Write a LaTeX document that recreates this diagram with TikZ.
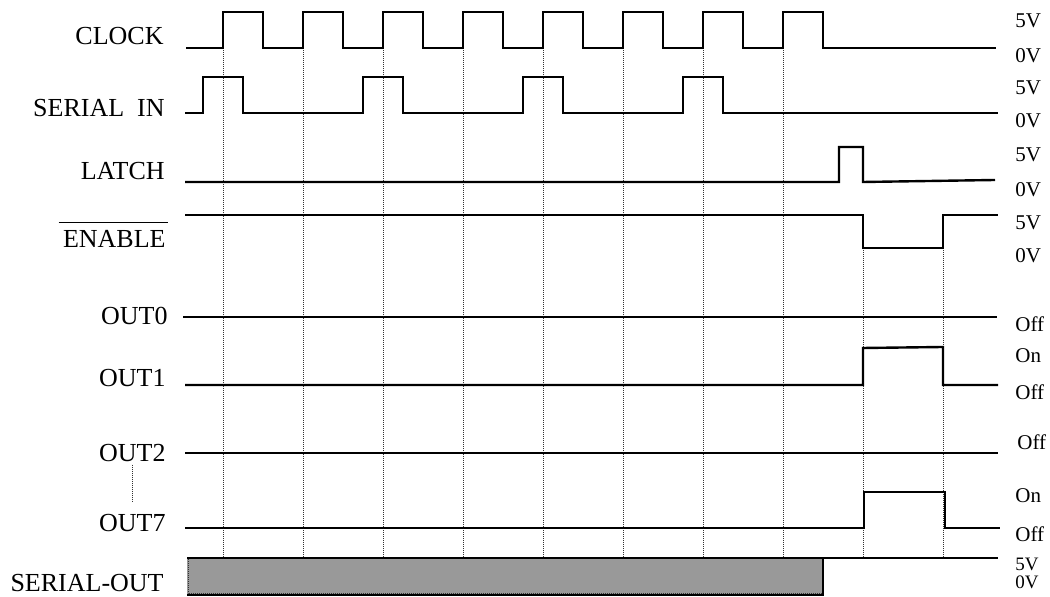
\documentclass[tikz,border=0pt]{standalone}
\usepackage{fontspec}
\setmainfont{Liberation Serif}
\usepackage{xcolor}
\definecolor{tdfill}{HTML}{999999}
\definecolor{tddot}{HTML}{333333}
\usepackage{tikz}
\usetikzlibrary{positioning}
\tikzset{
  tdwave/.style={line width=1.2pt,line join=miter},
  tdgrid/.style={dash pattern=on 0.5pt off 0.5pt,line width=0.5pt,color=tddot},
  tdname/.style={anchor=base east,inner sep=0pt,font=\fontsize{13}{15}\selectfont},
  tdlevel/.style={anchor=base west,inner sep=0pt,font=\fontsize{10.5}{12}\selectfont},
}

\begin{document}
\begin{tikzpicture}[x=0.5pt,y=-0.5pt]
\useasboundingbox (0,0) rectangle (1050,597);
% grid
\foreach \x in {223,303,...,823} \draw[tdgrid] (\x,48) -- (\x,558);
\foreach \x in {863,943} \draw[tdgrid] (\x,250) -- (\x,558);
% signal names
\node[tdname] (clk) at (164,45) {CLOCK};
\node[tdname] (sin) at (165,117) {SERIAL\ \ IN};
\node[tdname] (lat) at (165,180) {LATCH};
\node[tdname] (en) at (166,248) {ENABLE};
\draw[line width=0.6pt] ([xshift=-2pt,yshift=4pt]en.north west) -- ([xshift=1pt,yshift=4pt]en.north east);
\node[tdname] (out0) at (168,325) {OUT0};
\node[tdname] (out1) at (166,387) {OUT1};
\node[tdname] (out2) at (166,462) {OUT2};
\node[tdname] (out7) at (166,532) {OUT7};
\node[tdname] (sout) at (164,592) {SERIAL-OUT};
\draw[tdgrid] ([yshift=-1pt]out2.south) -- ([yshift=6.5pt]out7.north);
% waveforms
\draw[tdwave] (186,48) \foreach \x in {223,303,...,783} {-- (\x,48) -- (\x,12) -- (\x+40,12) -- (\x+40,48)} -- (996,48);
\draw[tdwave] (185,113) \foreach \x in {203,363,523,683} {-- (\x,113) -- (\x,77) -- (\x+40,77) -- (\x+40,113)} -- (998,113);
\draw[tdwave] (185,182) -- (839,182) -- (839,147) -- (863,147) -- (863,182) -- (995,180);
\draw[tdwave] (185,215) -- (863,215) -- (863,248) -- (943,248) -- (943,215) -- (998,215);
\draw[tdwave] (183,317) -- (997,317);
\draw[tdwave] (185,385) -- (863,385) -- (863,348) -- (943,347) -- (943,385) -- (998,385);
\draw[tdwave] (185,453) -- (998,453);
\draw[tdwave] (185,528) -- (864,528) -- (864,492) -- (945,492) -- (945,528) -- (1000,528);
\fill[tdfill] (187,558) rectangle (823,595);
\draw[tdgrid] (188,559) rectangle (822,594);
\draw[tdwave] (187,595) -- (823,595) -- (823,558);
\draw[tdwave] (187,558) -- (998,558);
% levels
\node[tdlevel] (clkh) at (1015,28) {5V};
\node[tdlevel] (clkl) at (1015,63) {0V};
\node[tdlevel] (sinh) at (1015,95) {5V};
\node[tdlevel] (sinl) at (1015,128) {0V};
\node[tdlevel] (lath) at (1015,162) {5V};
\node[tdlevel] (latl) at (1015,197) {0V};
\node[tdlevel] (enh) at (1015,230) {5V};
\node[tdlevel] (enl) at (1015,263) {0V};
\node[tdlevel] (out0l) at (1015,332) {Off};
\node[tdlevel] (out1h) at (1015,363) {On};
\node[tdlevel] (out1l) at (1015,400) {Off};
\node[tdlevel] (out2l) at (1017,450) {Off};
\node[tdlevel] (out7h) at (1015,503) {On};
\node[tdlevel] (out7l) at (1015,542) {Off};
\node[tdlevel,font=\fontsize{9.5}{10}\selectfont] (southi) at (1015,571) {5V};
\node[tdlevel,font=\fontsize{9.5}{10}\selectfont] (soutlo) at (1015,589) {0V};
\end{tikzpicture}
\end{document}
